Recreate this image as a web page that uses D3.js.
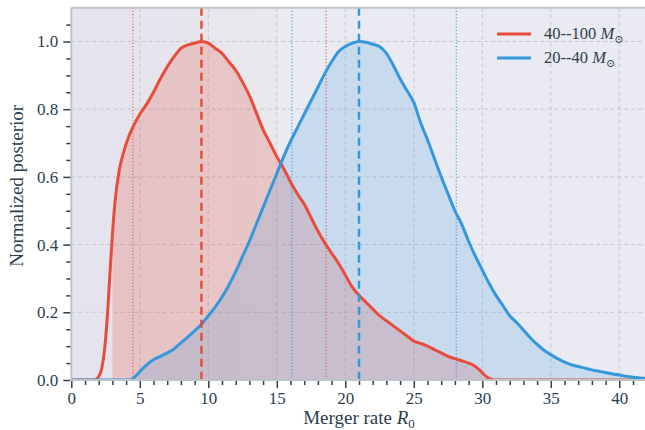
<!DOCTYPE html>
<html>
<head>
<meta charset="utf-8">
<script src="https://cdn.jsdelivr.net/npm/d3@7"></script>
<style>
  body { margin: 0; background: #fff; }
  svg text { font-family: "Liberation Serif", "DejaVu Serif", serif; fill: #2c3e50; }
</style>
</head>
<body>
<svg id="drawing_region"></svg>
<script>
// red: 40--100 Msun
const redX = [0, 1.5, 1.8, 2.0, 2.2, 2.4, 2.6, 2.8, 3.0, 3.2, 3.5, 3.8, 4.2, 4.6, 5.0, 5.5, 6.0, 6.5, 7.0, 7.5, 8.0, 8.5, 9.0, 9.5, 10.0, 10.5, 11.0, 11.5, 12.0, 12.5, 13.0, 13.5, 14.0, 14.5, 15.0, 15.5, 16.0, 16.5, 17.0, 17.5, 18.0, 18.5, 19.0, 19.5, 20.0, 20.5, 21.0, 21.5, 22.0, 22.5, 23.0, 23.5, 24.0, 24.5, 25.0, 25.5, 26.0, 26.5, 27.0, 27.5, 28.0, 28.5, 29.0, 29.5, 30.0, 30.3, 30.7, 31.0, 42.0];
const redY = [0, 0, 0.002, 0.01, 0.03, 0.08, 0.17, 0.3, 0.43, 0.53, 0.62, 0.67, 0.72, 0.755, 0.785, 0.815, 0.85, 0.89, 0.925, 0.955, 0.98, 0.99, 0.995, 1.0, 0.995, 0.98, 0.965, 0.94, 0.915, 0.88, 0.84, 0.79, 0.74, 0.70, 0.66, 0.625, 0.585, 0.55, 0.52, 0.48, 0.44, 0.405, 0.375, 0.345, 0.31, 0.275, 0.25, 0.23, 0.21, 0.19, 0.175, 0.16, 0.145, 0.13, 0.115, 0.108, 0.1, 0.09, 0.08, 0.07, 0.063, 0.057, 0.05, 0.04, 0.022, 0.01, 0.002, 0, 0];

// blue: 20--40 Msun
const blueX = [0, 4.3, 4.6, 5.0, 5.5, 6.0, 6.5, 7.0, 7.5, 8.0, 8.5, 9.0, 9.5, 10.0, 10.5, 11.0, 11.5, 12.0, 12.5, 13.0, 13.5, 14.0, 14.5, 15.0, 15.5, 16.0, 16.5, 17.0, 17.5, 18.0, 18.5, 19.0, 19.5, 20.0, 20.5, 21.0, 21.5, 22.0, 22.5, 23.0, 23.5, 24.0, 24.5, 25.0, 25.5, 26.0, 26.5, 27.0, 27.5, 28.0, 28.5, 29.0, 29.5, 30.0, 30.5, 31.0, 31.5, 32.0, 32.5, 33.0, 33.5, 34.0, 34.5, 35.0, 35.5, 36.0, 36.5, 37.0, 37.5, 38.0, 38.5, 39.0, 39.5, 40.0, 40.5, 41.0, 41.5, 42.0];
const blueY = [0, 0, 0.008, 0.025, 0.045, 0.06, 0.07, 0.08, 0.092, 0.11, 0.127, 0.145, 0.165, 0.19, 0.215, 0.245, 0.28, 0.32, 0.365, 0.41, 0.46, 0.51, 0.56, 0.61, 0.66, 0.705, 0.745, 0.785, 0.825, 0.865, 0.905, 0.94, 0.97, 0.985, 0.995, 1.0, 0.998, 0.992, 0.985, 0.965, 0.93, 0.89, 0.855, 0.82, 0.76, 0.71, 0.655, 0.6, 0.55, 0.5, 0.46, 0.41, 0.365, 0.325, 0.285, 0.25, 0.22, 0.19, 0.17, 0.148, 0.125, 0.105, 0.088, 0.075, 0.063, 0.053, 0.045, 0.04, 0.035, 0.03, 0.026, 0.022, 0.018, 0.015, 0.011, 0.008, 0.006, 0.004];

const seriesNames = ["40--100 ", "20--40 "];
const seriesColors = ["#e74c3c", "#3498db"];
const peaks = [9.5, 21.0];           // dashed lines
const intervals = [[4.5, 18.6], [16.1, 28.1]];  // dotted lines
const redFillStart = 3.0;
const xTicks = [0, 5, 10, 15, 20, 25, 30, 35, 40];
const yTicks = [0.0, 0.2, 0.4, 0.6, 0.8, 1.0];

const width = 645, height = 430;

const svg = d3.select('#drawing_region')
    .attr('width', width)
    .attr('height', height);

const xscale = d3.scaleLinear().domain([0, 42]).range([71.3, 71.3 + 13.7 * 42]);
const yscale = d3.scaleLinear().domain([0, 1.1]).range([380, 380 - 338.5 * 1.1]);

const x0 = xscale(0), x1 = width, yTop = yscale(1.1), yBot = yscale(0);

const defs = svg.append('defs');
defs.append('clipPath').attr('id', 'clip')
    .append('rect').attr('x', x0).attr('y', yTop).attr('width', x1 - x0).attr('height', yBot - yTop);

const grad = defs.append('linearGradient').attr('id', 'band')
    .attr('x1', 0).attr('x2', 1).attr('y1', 0).attr('y2', 0);
grad.append('stop').attr('offset', 0).attr('stop-color', '#e4e3ee');
grad.append('stop').attr('offset', 1).attr('stop-color', '#e9e8ec');

// background
svg.append('rect').attr('x', x0).attr('y', yTop).attr('width', x1 - x0).attr('height', yBot - yTop)
    .attr('fill', '#eaeaf2');
svg.append('rect').attr('x', x0).attr('y', yTop).attr('width', xscale(15) - x0).attr('height', yBot - yTop)
    .attr('fill', 'url(#band)');

const plot = svg.append('g').attr('clip-path', 'url(#clip)');

// grid
plot.selectAll('.gx').data(xTicks.slice(1)).enter().append('line')
    .attr('x1', d => xscale(d)).attr('x2', d => xscale(d))
    .attr('y1', yTop).attr('y2', yBot)
    .attr('stroke', '#c6c6ce').attr('stroke-width', 1).attr('stroke-dasharray', '4,3');
plot.selectAll('.gy').data(yTicks.slice(1)).enter().append('line')
    .attr('x1', x0).attr('x2', x1)
    .attr('y1', d => yscale(d)).attr('y2', d => yscale(d))
    .attr('stroke', '#c6c6ce').attr('stroke-width', 1).attr('stroke-dasharray', '4,3');

const redData = redX.map((x, i) => ({x: x, y: redY[i]}));
const blueData = blueX.map((x, i) => ({x: x, y: blueY[i]}));
const allData = [redData, blueData];

const area = d3.area().x(d => xscale(d.x)).y0(yscale(0)).y1(d => yscale(d.y)).curve(d3.curveMonotoneX);
const line = d3.line().x(d => xscale(d.x)).y(d => yscale(d.y)).curve(d3.curveMonotoneX);

// fills
const redFill = redData.filter(d => d.x >= redFillStart);
plot.append('path').datum(redFill)
    .attr('d', area).attr('fill', seriesColors[0]).attr('fill-opacity', 0.22);
plot.append('path').datum(blueData)
    .attr('d', area).attr('fill', seriesColors[1]).attr('fill-opacity', 0.18);

// interval lines
intervals.forEach((iv, k) => {
    plot.selectAll(null).data(iv).enter().append('line')
        .attr('x1', d => xscale(d)).attr('x2', d => xscale(d))
        .attr('y1', yTop).attr('y2', yBot)
        .attr('stroke', seriesColors[k]).attr('stroke-width', 1.2)
        .attr('stroke-dasharray', '1.2,2').attr('opacity', 0.85);
});

// curves
allData.forEach((data, k) => {
    plot.append('path').datum(data)
        .attr('d', line).attr('fill', 'none')
        .attr('stroke', seriesColors[k]).attr('stroke-width', 3)
        .attr('stroke-linejoin', 'round');
});

// peak lines
peaks.forEach((p, k) => {
    plot.append('line')
        .attr('x1', xscale(p)).attr('x2', xscale(p))
        .attr('y1', yTop).attr('y2', yBot)
        .attr('stroke', seriesColors[k]).attr('stroke-width', 2.5)
        .attr('stroke-dasharray', '8,5');
});

// spines
svg.append('line').attr('x1', x0).attr('x2', x0).attr('y1', yTop).attr('y2', yBot)
    .attr('stroke', '#bcc3c9').attr('stroke-width', 2);
svg.append('line').attr('x1', x0).attr('x2', x1).attr('y1', yTop).attr('y2', yTop)
    .attr('stroke', '#bcc3c9').attr('stroke-width', 2);
svg.append('line').attr('x1', x0).attr('x2', x1).attr('y1', yBot).attr('y2', yBot)
    .attr('stroke', '#bcc3c9').attr('stroke-width', 2);

// axes
const xaxis = d3.axisBottom(xscale).tickValues(xTicks).tickSize(7).tickPadding(4).tickFormat(d3.format('d'));
const xminor = d3.axisBottom(xscale).tickValues(d3.range(0, 43, 1).filter(d => d % 5 !== 0)).tickSize(4).tickFormat('');
const yaxis = d3.axisLeft(yscale).tickValues(yTicks).tickSize(7).tickPadding(5).tickFormat(d3.format('.1f'));
const yminor = d3.axisLeft(yscale).tickValues(d3.range(0.05, 1.1, 0.05).filter(d => Math.abs(d * 5 - Math.round(d * 5)) > 0.01)).tickSize(4).tickFormat('');

function styleAxis(g) {
    g.select('.domain').remove();
    g.selectAll('line').attr('stroke', '#2c3e50').attr('stroke-width', 1.5);
    g.selectAll('text').attr('font-size', 17).attr('fill', '#2c3e50')
        .style('font-family', '"Liberation Serif", serif');
}

svg.append('g').attr('transform', `translate(0,${yBot + 1})`).call(xaxis).call(styleAxis);
svg.append('g').attr('transform', `translate(0,${yBot + 1})`).call(xminor).call(styleAxis);
svg.append('g').attr('transform', `translate(${x0 - 1},0)`).call(yaxis).call(styleAxis);
svg.append('g').attr('transform', `translate(${x0 - 1},0)`).call(yminor).call(styleAxis);

// axis labels
const xl = svg.append('text').attr('x', (x0 + xscale(42)) / 2).attr('y', 424).attr('text-anchor', 'middle').attr('font-size', 19);
xl.append('tspan').text('Merger rate ');
xl.append('tspan').attr('font-style', 'italic').text('R');
xl.append('tspan').attr('font-size', 13).attr('dy', 4).text('0');

svg.append('text')
    .attr('transform', `translate(23,${(yTop + yBot) / 2 - 8}) rotate(-90)`)
    .attr('text-anchor', 'middle').attr('font-size', 19)
    .text('Normalized posterior');

// legend
seriesNames.forEach((name, k) => {
    const ly = 34 + k * 24;
    svg.append('line').attr('x1', 497).attr('x2', 531).attr('y1', ly).attr('y2', ly)
        .attr('stroke', seriesColors[k]).attr('stroke-width', 3);
    const t = svg.append('text').attr('x', 544).attr('y', ly + 5).attr('font-size', 16.5);
    t.append('tspan').text(name);
    t.append('tspan').attr('font-style', 'italic').text('M');
    t.append('tspan').attr('font-size', 11).attr('dy', 4).text('⊙');
});
</script>
</body>
</html>
